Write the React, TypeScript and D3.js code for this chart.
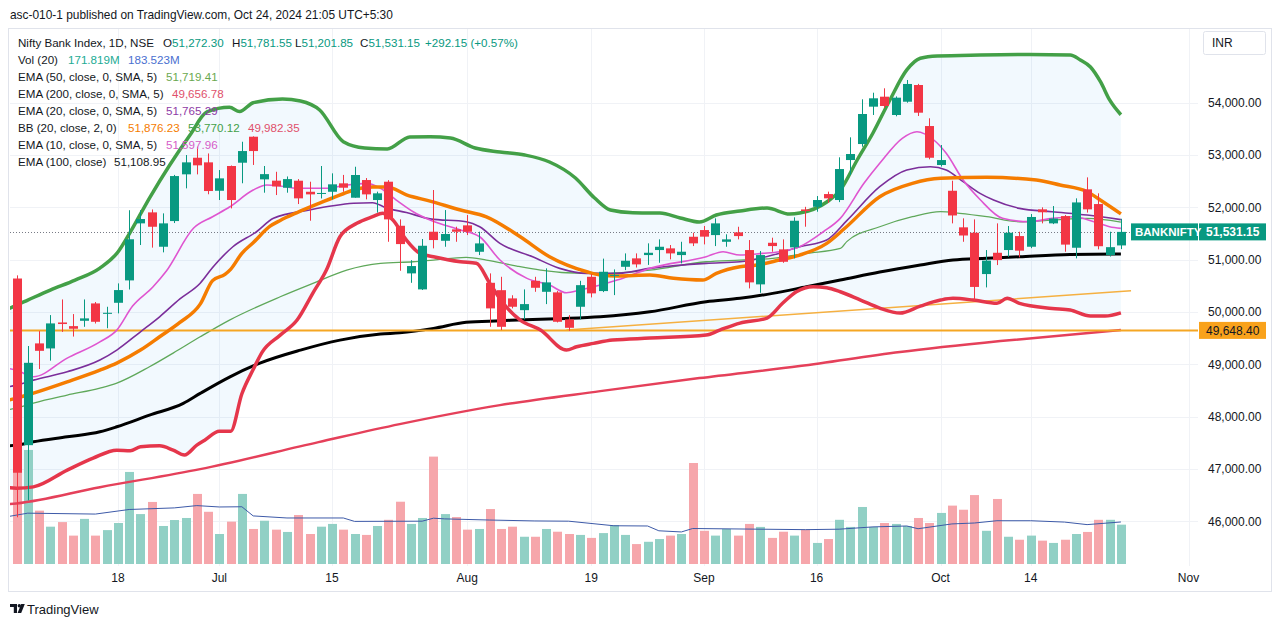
import React from 'react';
import * as d3 from 'd3';

const W = 1281;
const H = 627;

// ---------- data ----------
const xTickIndex = [9, 18, 28, 40, 51, 61, 71, 82, 90, 104];
const xTickLabels = ['18', 'Jul', '15', 'Aug', '19', 'Sep', '16', 'Oct', '14', 'Nov'];
const priceTicks = [46000, 47000, 48000, 49000, 50000, 51000, 52000, 53000, 54000];

const opens = [50640, 47455, 49400, 49304, 49800, 49730, 49832, 50164, 49965, 50176,
  50604, 51694, 51904, 51247, 51738, 52631, 52948, 52860, 52317, 52790,
  52853, 53350, 52535, 52510, 52375, 52509, 52298, 52260, 52298, 52459,
  52184, 52522, 52140, 52490, 51648, 50738, 50432, 51534, 51361, 51579,
  51656, 51151, 50558, 50417, 50260, 50035, 50596, 50386, 50375, 49858,
  50100, 50673, 50400, 50690, 50864, 51025, 51088, 51184, 51216, 51088,
  51438, 51566, 51470, 51342, 51522, 51184, 50528, 51323, 51197, 51235,
  51960, 52011, 52254, 52140, 52904, 53210, 53924, 54115, 53765, 54019,
  54338, 53554, 52809, 52317, 51618, 51514, 50725, 51132, 51184, 51451,
  51247, 51962, 51694, 51833, 51228, 52344, 52063, 51088, 51272.3];
const highs = [50700, 49350, 49635, 49941, 50240, 49960, 50240, 50190, 50100, 50547,
  51945, 51945, 51960, 51885, 52620, 53000, 53160, 53030, 52713, 52800,
  53254, 53357, 52790, 52680, 52590, 52540, 52490, 52790, 52650, 52620,
  52776, 52560, 52300, 52520, 51770, 50990, 51395, 52331, 51948, 51630,
  51853, 51534, 50738, 50673, 50320, 50432, 50673, 50834, 50400, 49941,
  50596, 50725, 51020, 50814, 51120, 51120, 51312, 51388, 51280, 51342,
  51515, 51643, 51790, 51485, 51629, 51375, 51165, 51420, 51388, 51810,
  52010, 52216, 52300, 52956, 53338, 54065, 54191, 54275, 54120, 54434,
  54360, 53702, 53191, 52509, 51790, 51770, 51184, 51694, 51643, 51534,
  51872, 52000, 52025, 51853, 52172, 52573, 52268, 51534, 51781.55];
const lows = [46077, 46400, 48910, 49070, 49620, 49530, 49717, 49780, 49690, 49974,
  50430, 51280, 51230, 51140, 51700, 52363, 52630, 52250, 52140, 51980,
  52460, 52810, 52280, 52235, 52280, 52063, 51744, 52170, 52153, 52298,
  52184, 52153, 51900, 51342, 50788, 50558, 50420, 51216, 51247, 51342,
  51470, 51088, 49717, 49654, 50069, 49858, 50386, 50151, 49800, 49640,
  49858, 50279, 50380, 50323, 50801, 50850, 50900, 50941, 51006, 50929,
  51260, 51292, 51260, 51247, 51388, 50451, 50367, 51152, 50940, 51025,
  51630, 51916, 52088, 52100, 52618, 53159, 53765, 53900, 53740, 54000,
  53746, 52918, 52780, 51694, 51342, 50195, 50470, 50897, 51055, 51044,
  51220, 51694, 51680, 51152, 51025, 51900, 51197, 51060, 51201.85];
const closes = [46928, 49029, 49258, 49782, 49770, 49680, 49878, 49813, 49985, 50419,
  51390, 51777, 51629, 51694, 52598, 52860, 52803, 52312, 52554, 52140,
  53076, 53076, 52635, 52400, 52540, 52172, 52248, 52275, 52440, 52375,
  52618, 52248, 52268, 51770, 51298, 50878, 51266, 51375, 51490, 51534,
  51534, 51311, 50069, 49717, 50100, 50151, 50463, 50566, 49813, 49698,
  50513, 50356, 50769, 50710, 50979, 50910, 51132, 51247, 51120, 51152,
  51312, 51440, 51694, 51388, 51451, 50566, 51088, 51260, 50960, 51744,
  51930, 52140, 52172, 52732, 53019, 53784, 54084, 53937, 54096, 54358,
  53809, 52948, 52904, 51845, 51462, 50479, 50982, 50992, 51514, 51172,
  51816, 51906, 51786, 51288, 52094, 51962, 51257, 51239, 51531.15];
const volumes = [402, 498, 233, 163, 183, 124, 197, 124, 148, 179,
  402, 218, 271, 166, 192, 201, 306, 228, 131, 185,
  306, 153, 189, 150, 140, 214, 131, 163, 175, 150,
  131, 127, 166, 193, 272, 175, 201, 469, 218, 205,
  150, 153, 240, 153, 163, 119, 119, 153, 141, 131,
  127, 114, 135, 170, 127, 87, 97, 109, 124, 131,
  441, 145, 124, 153, 124, 175, 162, 114, 141, 124,
  150, 92, 109, 193, 162, 249, 162, 179, 175, 166,
  201, 179, 223, 255, 237, 301, 145, 284, 119, 106,
  124, 102, 92, 106, 131, 140, 193, 193, 171.819];

// indicator readings: [bar index, value]
const volumeMA = [[-1, 205], [1, 222], [7, 218], [10, 238], [14, 245], [16, 255], [18, 249], [20, 250], [21, 210], [24, 201], [29, 201], [30, 186], [36, 187], [37, 200], [38, 197], [42, 192], [46, 188], [49, 187], [53, 167], [56, 166], [57, 145], [59, 140], [60, 155], [70, 150], [73, 152], [76, 162], [79, 166], [80, 154], [83, 175], [85, 179], [87, 189], [90, 189], [93, 183], [95, 172], [98, 183.523]];

const bbUpper = [[-1, 50030], [0, 50132], [1, 50228], [3, 50419], [5.2, 50610], [7.4, 50840], [9, 51146], [10.1, 51528], [11.8, 52178], [13.6, 52809], [15.4, 53383], [16.9, 53823], [18.9, 53911], [19.8, 53830], [21, 54000], [23.6, 54071], [25.2, 54033], [26.9, 53861], [29, 53255], [30.9, 53134], [32.9, 53115], [34.9, 53345], [36.7, 53350], [38.5, 53325], [40.7, 53134], [42.9, 53058], [45.1, 53000], [47.3, 52867], [49.6, 52561], [51.3, 52178], [52.7, 51949], [54.7, 51897], [57.1, 51891], [58.9, 51796], [60.6, 51719], [62.1, 51853], [64.2, 51930], [66.6, 51987], [68.6, 51872], [69.5, 51891], [71.9, 52102], [73.1, 52331], [74.6, 52905], [76, 53421], [77.5, 54052], [79, 54626], [80.2, 54849], [81.7, 54893], [85.5, 54912], [89.9, 54922], [93.5, 54912], [94.4, 54817], [95.3, 54683], [96.2, 54396], [97, 54052], [98, 53770.12]];

const bbLower = [[-1, 46650], [0, 46633], [1.5, 46658], [4.5, 46978], [6.8, 47207], [8.9, 47360], [10.1, 47347], [11, 47423], [12.7, 47442], [13.9, 47360], [14.9, 47265], [16, 47456], [16.7, 47551], [18, 47720], [19, 47719], [20, 48438], [21, 48900], [21.8, 49233], [23.4, 49558], [24.9, 49846], [26.3, 50362], [27.5, 50802], [28.7, 51438], [30.2, 51694], [31.6, 51821], [32.5, 51886], [33.4, 51758], [34.6, 51375], [35.8, 51121], [37, 51056], [39.4, 50960], [40.8, 50930], [42, 50547], [43.2, 50165], [44.7, 49846], [46.5, 49654], [48.8, 49272], [49.7, 49335], [51.2, 49400], [52.9, 49463], [56.2, 49501], [61.2, 49559], [62.4, 49654], [64.2, 49788], [66.6, 49884], [68, 50171], [69.2, 50387], [70.7, 50482], [71.9, 50463], [73.1, 50387], [74.9, 50228], [76.6, 50075], [78.4, 49980], [80.2, 50113], [82, 50228], [83.1, 50261], [84.9, 50228], [87, 50165], [87.9, 50261], [89, 50165], [91.9, 50069], [93.5, 50037], [95.3, 49922], [96.6, 49922], [98, 49982.35]];

const bbBasis = [[-1, 48300], [0, 48354], [1.5, 48450], [4.5, 48666], [7.4, 48890], [8.9, 49024], [11, 49272], [12.7, 49526], [14.5, 49800], [16.3, 50150], [17.4, 50600], [18.5, 50720], [19, 50815], [20, 51122], [21, 51324], [22.5, 51640], [23.4, 51750], [24.9, 51900], [26.9, 52080], [29, 52260], [30.2, 52350], [31.6, 52390], [32.9, 52390], [34.6, 52240], [36.7, 52120], [39.4, 51950], [41.7, 51820], [44.7, 51438], [47.3, 51056], [50.6, 50769], [51.8, 50706], [53.3, 50687], [56.2, 50706], [58.3, 50643], [60.9, 50610], [62.1, 50738], [64.2, 50865], [65.7, 50897], [67.7, 50993], [69.5, 51088], [71.9, 51312], [73.5, 51600], [76.6, 52203], [79.5, 52459], [82, 52555], [86.1, 52574], [90.5, 52522], [92.6, 52427], [95, 52299], [96.4, 52108], [98, 51876.23]];

const ema20 = [[-1, 48560], [0, 48603], [1.5, 48698], [4.5, 48857], [7.4, 49081], [8.9, 49272], [11, 49622], [12.7, 49909], [14.5, 50250], [16.3, 50550], [17.4, 50850], [19.2, 51247], [21.3, 51534], [22.8, 51790], [26, 51950], [29.9, 52077], [31.6, 52089], [32.8, 51990], [34.6, 51900], [36.7, 51780], [39.9, 51725], [41.1, 51630], [42.9, 51312], [45.8, 51056], [48.2, 50834], [50.6, 50738], [53.3, 50738], [56.2, 50834], [61.2, 50930], [64.2, 50960], [67.1, 51088], [69.5, 51247], [71.9, 51375], [73.7, 51750], [76.6, 52394], [79, 52714], [81.1, 52777], [82.5, 52714], [84, 52490], [85.5, 52268], [86.7, 52140], [89, 51981], [91.9, 51917], [95, 51853], [98, 51765.29]];

const ema10 = [[-1, 48930], [0, 48890], [1.5, 48762], [4.5, 49119], [7.4, 49430], [8.9, 49654], [10.3, 50113], [12.1, 50477], [13.3, 50783], [15.7, 51600], [17.4, 51821], [18.9, 52006], [21, 52331], [22.2, 52427], [23.4, 52408], [24.9, 52364], [27.5, 52364], [29.3, 52427], [31.1, 52459], [32.3, 52364], [33.7, 52140], [35.2, 51917], [36.7, 51758], [39.4, 51566], [41.1, 51438], [42.9, 50993], [45.3, 50643], [47.3, 50515], [48.8, 50368], [50, 50419], [51.8, 50515], [53.3, 50610], [56.2, 50834], [61.2, 51056], [62.7, 51152], [64.2, 51088], [66.2, 51121], [67.7, 51152], [69.5, 51247], [71.6, 51534], [73.1, 51790], [75.2, 52459], [76.6, 52841], [78.6, 53320], [79.9, 53446], [81.4, 53287], [82.5, 53033], [84, 52522], [85.5, 52150], [87.5, 51790], [89.9, 51725], [91.9, 51790], [93.8, 51821], [95.6, 51725], [97, 51630], [98, 51597.96]];

const ema50 = [[-1, 48125], [0, 48163], [1.5, 48259], [4.5, 48412], [7.4, 48546], [8.9, 48641], [11.8, 48953], [13.9, 49215], [16.3, 49526], [18.9, 49845], [23.4, 50291], [26.3, 50547], [29.3, 50802], [32.3, 50930], [35.2, 50960], [37, 50993], [39.9, 51044], [41.7, 50993], [44.4, 50878], [46.5, 50802], [48.8, 50750], [51.8, 50738], [56.2, 50802], [61.2, 50960], [64.2, 50993], [67.1, 51025], [70.1, 51121], [73.1, 51216], [73.7, 51350], [76.6, 51629], [79.5, 51821], [82, 51917], [83.7, 51885], [86.1, 51821], [89, 51725], [91.9, 51758], [95, 51790], [98, 51719.41]];

const ema100 = [[-1, 47437], [0, 47456], [1.5, 47519], [4.5, 47615], [7.4, 47710], [8.9, 47806], [11.8, 48029], [14.8, 48253], [16.3, 48444], [18.9, 48756], [21.6, 49023], [25.2, 49272], [28.7, 49463], [32.3, 49578], [34, 49603], [37, 49687], [39.9, 49802], [42.9, 49832], [45.8, 49859], [48.8, 49878], [51.8, 49909], [56.2, 50004], [61.2, 50196], [64.2, 50261], [67.1, 50356], [70.1, 50482], [73.1, 50610], [76.6, 50763], [80.2, 50897], [83.1, 50993], [86.1, 51025], [89, 51056], [93.5, 51100], [98, 51108.95]];

const ema200 = [[-1, 46320], [0, 46341], [7.4, 46652], [16.3, 46997], [26.8, 47513], [34, 47857], [42.9, 48220], [51.8, 48488], [60.6, 48737], [69.5, 48966], [78.4, 49234], [87.3, 49444], [98, 49656.78]];

const hLineValue = 49648.4;
const trendStart = [48.8, 49654];
const trendEnd = [98.9, 50406];

const FONT = "'Liberation Sans', Arial, sans-serif";
const UP = '#089981';
const DOWN = '#f23645';

export default function App() {
  const x = d3.scaleLinear().domain([0, 98]).range([16.5, 1120.9]);
  const y = d3.scaleLinear().domain([46000, 54000]).range([521.3, 102.7]);
  const yVol = d3.scaleLinear().domain([0, 100]).range([564, 541.1]);

  const line = d3.line<number[]>().x(d => x(d[0])).y(d => y(d[1])).curve(d3.curveMonotoneX);
  const volLine = d3.line<number[]>().x(d => x(d[0])).y(d => yVol(d[1])).curve(d3.curveLinear);

  const upperPath = line(bbUpper) as string;
  const lowerRev = line([...bbLower].reverse()) as string;
  const fillPath = upperPath + 'L' + lowerRev.substring(1) + 'Z';

  const lastClose = closes[closes.length - 1];

  const legendRows = [
    { label: 'EMA (50, close, 0, SMA, 5)', vals: [{ t: '51,719.41', c: '#6aa84f', x: 166 }] },
    { label: 'EMA (200, close, 0, SMA, 5)', vals: [{ t: '49,656.78', c: '#e0506b', x: 172 }] },
    { label: 'EMA (20, close, 0, SMA, 5)', vals: [{ t: '51,765.29', c: '#8e3aa6', x: 166 }] },
    { label: 'BB (20, close, 2, 0)', vals: [{ t: '51,876.23', c: '#f57c00', x: 128 }, { t: '53,770.12', c: '#43a047', x: 188 }, { t: '49,982.35', c: '#e0506b', x: 248 }] },
    { label: 'EMA (10, close, 0, SMA, 5)', vals: [{ t: '51,597.96', c: '#d65cc8', x: 166 }] },
    { label: 'EMA (100, close)', vals: [{ t: '51,108.95', c: '#131722', x: 114 }] },
  ];

  return (
    <svg width={W} height={H} style={{ position: 'absolute', left: 0, top: 0, background: '#fff' }} fontFamily={FONT}>
      <defs>
        <clipPath id="plot"><rect x={10} y={29} width={1188} height={537} /></clipPath>
      </defs>
      <rect x={0} y={0} width={W} height={H} fill="#fff" />
      <text x={10} y={19} fontSize={11.9} fill="#131722">asc-010-1 published on TradingView.com, Oct 24, 2024 21:05 UTC+5:30</text>
      <rect x={8.5} y={28.5} width={1263} height={563} fill="none" stroke="#e0e3eb" />

      {/* grid */}
      <g stroke="#f0f2f6" strokeWidth={1}>
        {priceTicks.map(p => <line key={p} x1={10} x2={1198} y1={Math.round(y(p)) + 0.5} y2={Math.round(y(p)) + 0.5} />)}
        {xTickIndex.map(i => <line key={i} x1={Math.round(x(i)) + 0.5} x2={Math.round(x(i)) + 0.5} y1={29} y2={566} />)}
      </g>

      <g clipPath="url(#plot)">
        <path d={fillPath} fill="rgba(33,150,243,0.06)" />
        {/* volume */}
        {volumes.map((v, i) => {
          const bx = Math.round(x(i));
          const up = closes[i] >= opens[i];
          return <rect key={i} x={bx - 4} y={yVol(v)} width={9} height={564 - yVol(v)} fill={up ? '#91d0c5' : '#f6a6ab'} />;
        })}
        <path d={volLine(volumeMA) as string} fill="none" stroke="#3d5aa8" strokeWidth={1} />

        <path d={line(ema200) as string} fill="none" stroke="#e5405a" strokeWidth={2.5} />
        <path d={line(ema100) as string} fill="none" stroke="#000" strokeWidth={3} />
        <path d={line(ema50) as string} fill="none" stroke="#5fa85a" strokeWidth={1.3} />
        <line x1={x(trendStart[0])} y1={y(trendStart[1])} x2={x(trendEnd[0])} y2={y(trendEnd[1])} stroke="#f5b041" strokeWidth={1.5} />
        <line x1={10} x2={1198} y1={y(hLineValue)} y2={y(hLineValue)} stroke="#f5a623" strokeWidth={2} />
        <line x1={10} x2={1131} y1={Math.round(y(lastClose)) + 0.5} y2={Math.round(y(lastClose)) + 0.5} stroke="#787b86" strokeWidth={1} strokeDasharray="1 2" />
        <path d={line(ema20) as string} fill="none" stroke="#7b2e9a" strokeWidth={1.6} />
        <path d={line(ema10) as string} fill="none" stroke="#df55d0" strokeWidth={1.6} />
        <path d={upperPath} fill="none" stroke="#43a047" strokeWidth={3.5} />
        <path d={line(bbLower) as string} fill="none" stroke="#e5364b" strokeWidth={3.5} />
        <path d={line(bbBasis) as string} fill="none" stroke="#f57c00" strokeWidth={3.5} />

        {/* candles */}
        {opens.map((o, i) => {
          const c = closes[i];
          const bx = Math.round(x(i));
          const up = c >= o;
          const col = up ? UP : DOWN;
          const top = y(Math.max(o, c));
          const bot = y(Math.min(o, c));
          return (
            <g key={i}>
              <line x1={bx + 0.5} x2={bx + 0.5} y1={y(highs[i])} y2={y(lows[i])} stroke={col} strokeWidth={1} />
              <rect x={bx - 4} y={top} width={9} height={Math.max(1, bot - top)} fill={col} />
            </g>
          );
        })}
      </g>

      {/* legend */}
      <g fontSize={11.6} fill="#131722">
        <text x={18} y={46.5}>Nifty Bank Index, 1D, NSE</text>
        <text x={163} y={46.5}>O<tspan fill={UP}>51,272.30</tspan></text>
        <text x={232} y={46.5}>H<tspan fill={UP}>51,781.55</tspan></text>
        <text x={295} y={46.5}>L<tspan fill={UP}>51,201.85</tspan></text>
        <text x={360} y={46.5}>C<tspan fill={UP}>51,531.15</tspan></text>
        <text x={425} y={46.5} fill={UP}>+292.15 (+0.57%)</text>
        <text x={18} y={63.5}>Vol (20)</text>
        <text x={68} y={63.5} fill="#22ab94">171.819M</text>
        <text x={128} y={63.5} fill="#4a6fd0">183.523M</text>
        {legendRows.map((r, k) => (
          <g key={k}>
            <text x={18} y={80.5 + k * 17}>{r.label}</text>
            {r.vals.map((v, j) => <text key={j} x={v.x} y={80.5 + k * 17} fill={v.c}>{v.t}</text>)}
          </g>
        ))}
      </g>

      {/* right price axis */}
      <rect x={1203.5} y={31.5} width={62} height={23} rx={2} fill="#fff" stroke="#e0e3eb" />
      <text x={1212} y={47} fontSize={12} fill="#131722">INR</text>
      {priceTicks.map(p => (
        <text key={p} x={1208} y={y(p) + 4.3} fontSize={12} fill="#131722">{d3.format(',.2f')(p)}</text>
      ))}
      <rect x={1131} y={y(lastClose) - 8.5} width={67} height={17} fill={UP} />
      <rect x={1199} y={y(lastClose) - 8.5} width={67} height={17} fill={UP} />
      <text x={1135} y={y(lastClose) + 4.3} fontSize={11.5} fontWeight={700} fill="#fff">BANKNIFTY</text>
      <text x={1206} y={y(lastClose) + 4.3} fontSize={12} fontWeight={700} fill="#fff">{d3.format(',.2f')(lastClose)}</text>
      <rect x={1199} y={y(hLineValue) - 8.5} width={67} height={17} fill="#f9a21b" />
      <text x={1206} y={y(hLineValue) + 4.3} fontSize={12} fill="#131722">{d3.format(',.2f')(hLineValue)}</text>

      {/* time axis */}
      {xTickIndex.map((i, k) => (
        <text key={i} x={x(i)} y={582} fontSize={12} fill="#131722" textAnchor="middle">{xTickLabels[k]}</text>
      ))}

      {/* footer logo */}
      <g fill="#131722">
        <path d="M10 604 h7 v9 h-3.2 v-6 h-3.8 z" />
        <circle cx={19.3} cy={605.7} r={1.7} />
        <path d="M21.2 604 h3.6 l-3.6 9 h-3.6 z" />
      </g>
      <text x={27} y={613.5} fontSize={13} fill="#131722">TradingView</text>
    </svg>
  );
}
